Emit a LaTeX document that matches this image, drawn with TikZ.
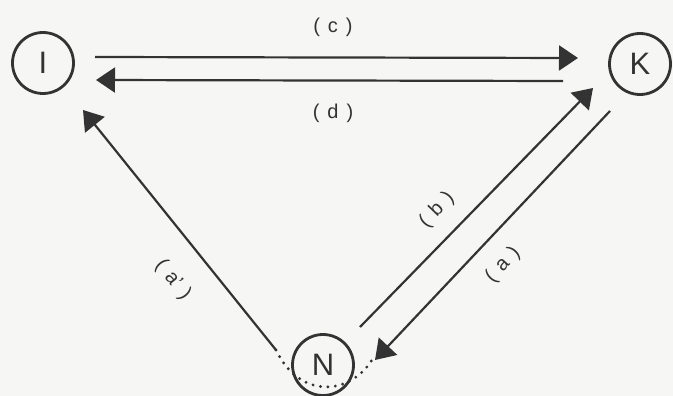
\documentclass[tikz,border=0pt]{standalone}
\usepackage{fontspec}
\setmainfont{Liberation Sans}
\usetikzlibrary{arrows.meta,calc}
\definecolor{ink}{rgb}{0.2,0.2,0.2}
\definecolor{paper}{rgb}{0.965,0.965,0.955}
\newcommand{\gap}{\hspace{0.4em}}

\begin{document}
\begin{tikzpicture}[x=1pt,y=-1pt,
   state/.style={draw=ink,line width=2.8pt,circle,minimum size=61pt,inner sep=0pt,
                 font=\fontsize{31}{33}\selectfont,text=ink},
   flow/.style={draw=ink,line width=2.2pt,-{Triangle[length=19pt,width=25pt]}},
   lbl/.style={font=\fontsize{20}{22}\selectfont,text=ink}]
  \fill[paper] (0,0) rectangle (673,396);
  \useasboundingbox (0,0) rectangle (673,396);
  \node[state] (I) at (43,63) {I};
  \node[state] (K) at (640,64) {K};
  \node[state] (N) at (323,365) {N};
  % horizontal pair
  \draw[flow] ($(I)+(52,-6)$) -- ($(K)+(-62,-6)$);
  \draw[flow] ($(K)+(-77,17)$) -- ($(I)+(53,17)$);
  % diagonals
  \draw[flow] ($(N)+(37,-38)$) -- ($(K)+(-47,24)$);
  \draw[flow] ($(K)+(-30,47)$) -- ($(N)+(52,-5)$);
  \draw[flow] ($(N)+(-47,-15)$) coordinate (a0) -- ($(I)+(40,47)$);
  \draw[ink,line width=3.2pt,line cap=round,dash pattern=on 0pt off 7.5pt]
       (a0) .. controls ($(N)+(-23,35)$) and ($(N)+(27,30)$) .. ($(N)+(49,-5)$);
  % labels
  \node[lbl] (lc) at (333,27) {(\gap c\gap)};
  \node[lbl] (ld) at (333,113) {(\gap d\gap)};
  \node[lbl,rotate=46] (lb) at (437,210) {(\gap b\gap)};
  \node[lbl,rotate=47] (la) at (503,265) {(\gap a\gap)};
  \node[lbl,rotate=-51] (la2) at (173,280) {(\gap a'\gap)};
\end{tikzpicture}
\end{document}
